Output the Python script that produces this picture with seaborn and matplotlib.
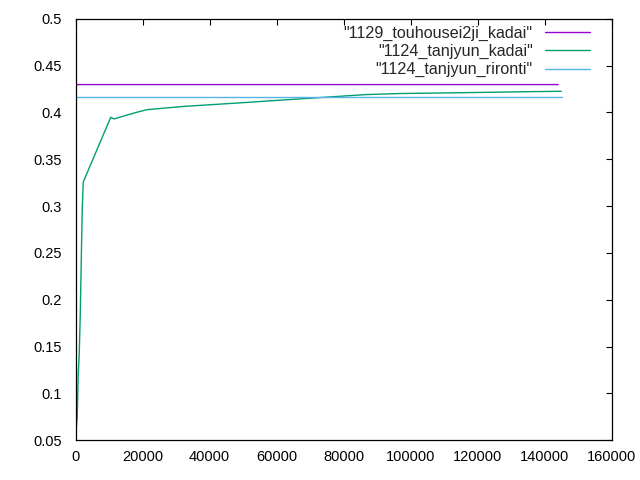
import numpy as np
import pandas as pd
import seaborn as sns
import matplotlib.pyplot as plt

# series
names = ['"1129_touhousei2ji_kadai"', '"1124_tanjyun_kadai"', '"1124_tanjyun_rironti"']

touhousei_x = [100, 400, 144000]
touhousei_y = [0.427, 0.4297, 0.4297]

kadai_x = [100, 250, 500, 800, 1100, 1400, 1700, 2000, 2300, 10500, 11500,
           15800, 19000, 21400, 31700, 40800, 50100, 59200, 68300, 77600,
           86700, 96500, 116800, 137300, 144900]
kadai_y = [0.212, 0.064, 0.075, 0.119, 0.141, 0.182, 0.239, 0.296, 0.3256,
           0.3947, 0.393, 0.3976, 0.4008, 0.4029, 0.4062, 0.4083, 0.4104,
           0.4126, 0.4147, 0.4169, 0.4190, 0.4201, 0.4211, 0.4222, 0.4225]

rironti_x = [0, 145000]
rironti_y = [0.4169, 0.4169]

colors = ["#9400d3", "#009e73", "#56b4e9"]

xticks = np.arange(0, 160001, 20000)
yticks = [0.05, 0.1, 0.15, 0.2, 0.25, 0.3, 0.35, 0.4, 0.45, 0.5]

df = pd.concat([
    pd.DataFrame({"x": touhousei_x, "y": touhousei_y, "name": names[0]}),
    pd.DataFrame({"x": kadai_x, "y": kadai_y, "name": names[1]}),
    pd.DataFrame({"x": rironti_x, "y": rironti_y, "name": names[2]}),
], ignore_index=True)

sns.set_style("white")
plt.rcParams['font.family'] = ['Liberation Sans', 'DejaVu Sans']

fig = plt.figure(figsize=(6.4, 4.8), dpi=100)
ax = fig.add_axes([0.118, 0.083, 0.838, 0.878])

sns.lineplot(data=df, x="x", y="y", hue="name", hue_order=names,
             palette=colors, estimator=None, sort=False, linewidth=1.0, ax=ax)

ax.set_xlim(0, 160000)
ax.set_ylim(0.05, 0.5)
ax.set_xticks(xticks)
ax.set_xticklabels([str(t) for t in xticks])
ax.set_yticks(yticks)
ax.set_yticklabels(["%g" % t for t in yticks])
ax.set_xlabel("")
ax.set_ylabel("")

for s in ax.spines.values():
    s.set_color("black")
    s.set_linewidth(0.9)
ax.tick_params(direction="in", length=4, width=0.8, top=True, right=True,
               labelsize=10.5, colors="black")
ax.tick_params(axis="x", pad=7)
ax.tick_params(axis="y", pad=10)

handles, labels = ax.get_legend_handles_labels()
leg = ax.legend(handles, labels, loc="upper right", bbox_to_anchor=(0.974, 1.003),
                frameon=False, markerfirst=False, fontsize=11.6, handlelength=2.8,
                handletextpad=0.75, labelspacing=0.2, borderpad=0)

fig.savefig("out.png", dpi=100)
